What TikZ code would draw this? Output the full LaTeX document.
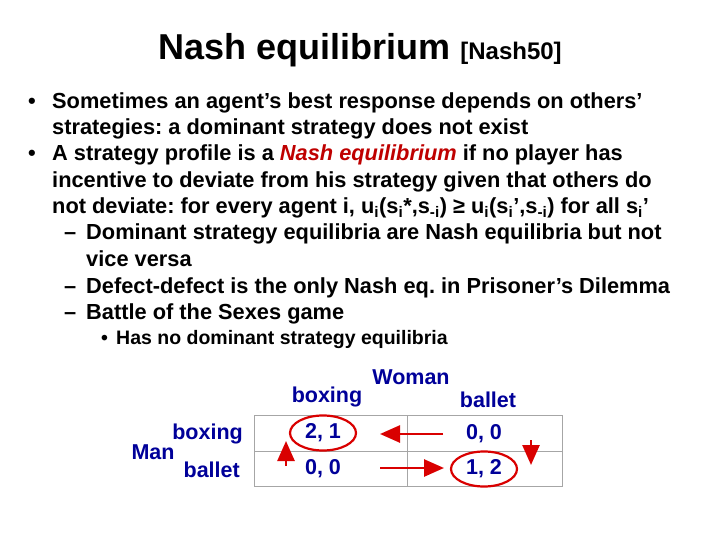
\documentclass[tikz,border=0pt]{standalone}
\usepackage{fontspec}
\setmainfont{Liberation Sans}
\usetikzlibrary{arrows.meta,shapes.geometric}
\frenchspacing
\begin{document}
\begin{tikzpicture}[x=1pt,y=-1pt,
  tx/.style={anchor=base west,inner sep=0pt,font=\fontsize{21.8}{25}\selectfont\bfseries},
  sx/.style={anchor=base west,inner sep=0pt,font=\fontsize{19.5}{22}\selectfont\bfseries},
  lb/.style={inner sep=0pt,font=\fontsize{21.5}{24}\selectfont\bfseries,text=blue!60!black},
  arr/.style={red!85!black,line width=2.6pt,-{Triangle[length=20pt,width=17pt]}},
  ov/.style={draw=red!85!black,line width=2.2pt,ellipse,minimum width=66pt,minimum height=35pt}]
\useasboundingbox (0,0) rectangle (720,540);
\node[anchor=base,inner sep=0pt] (title) at (360,60) {\fontsize{36}{40}\selectfont\bfseries Nash equilibrium {\fontsize{24}{26}\selectfont [Nash50]}};
\node[tx] (b1) at (28,109) {•};
\node[tx] (l1) at (52,109) {Sometimes an agent’s best response depends on others’};
\node[tx] (l2) at (52,135) {strategies: a dominant strategy does not exist};
\node[tx] (b2) at (28,161) {•};
\node[tx] (l3) at (52,161) {A strategy profile is a \textcolor{red!75!black}{\itshape Nash equilibrium} if no player has};
\node[tx] (l4) at (52,188) {incentive to deviate from his strategy given that others do};
\node[tx] (l5) at (52,214) {not deviate: for every agent i, u\textsubscript{i}(s\textsubscript{i}*,s\textsubscript{-i}) ≥ u\textsubscript{i}(s\textsubscript{i}’,s\textsubscript{-i}) for all s\textsubscript{i}’};
\node[tx] (d1) at (64,240) {–};
\node[tx] (l6) at (86,240) {Dominant strategy equilibria are Nash equilibria but not};
\node[tx] (l7) at (86,266) {vice versa};
\node[tx] (d2) at (64,293) {–};
\node[tx] (l8) at (86,293) {Defect-defect is the only Nash eq. in Prisoner’s Dilemma};
\node[tx] (d3) at (64,319) {–};
\node[tx] (l9) at (86,319) {Battle of the Sexes game};
\node[sx] (b3) at (101,344) {•};
\node[sx] (l10) at (116,344) {Has no dominant strategy equilibria};
% table
\draw[gray!70,line width=0.8pt] (254,415) rectangle (562,486);
\draw[gray!70,line width=0.8pt] (254,451) -- (562,451);
\draw[gray!70,line width=0.8pt] (407,415) -- (407,486);
\node[lb] (w) at (411,377) {Woman};
\node[lb] (cb) at (327,397) {boxing};
\node[lb] (cl) at (488,400) {ballet};
\node[lb] (m) at (153,452) {Man};
\node[lb,anchor=east] (rb) at (243,434) {boxing};
\node[lb,anchor=east] (rl) at (240,470) {ballet};
\node[lb] (c11) at (323,433) {2, 1};
\node[lb] (c12) at (484,434) {0, 0};
\node[lb] (c21) at (323,469) {0, 0};
\node[lb] (c22) at (484,469) {1, 2};
\node[ov] (o1) at (323,433) {};
\node[ov] (o2) at (484,469) {};
\coordinate (a1s) at (443,434); \coordinate (a1e) at (380,434);
\coordinate (a2s) at (380,468); \coordinate (a2e) at (444,468);
\coordinate (a3s) at (286,466); \coordinate (a3e) at (286,441);
\coordinate (a4s) at (531,440); \coordinate (a4e) at (531,465);
\draw[arr] (a1s) -- (a1e);
\draw[arr] (a2s) -- (a2e);
\draw[arr] (a3s) -- (a3e);
\draw[arr] (a4s) -- (a4e);
\end{tikzpicture}
\end{document}
